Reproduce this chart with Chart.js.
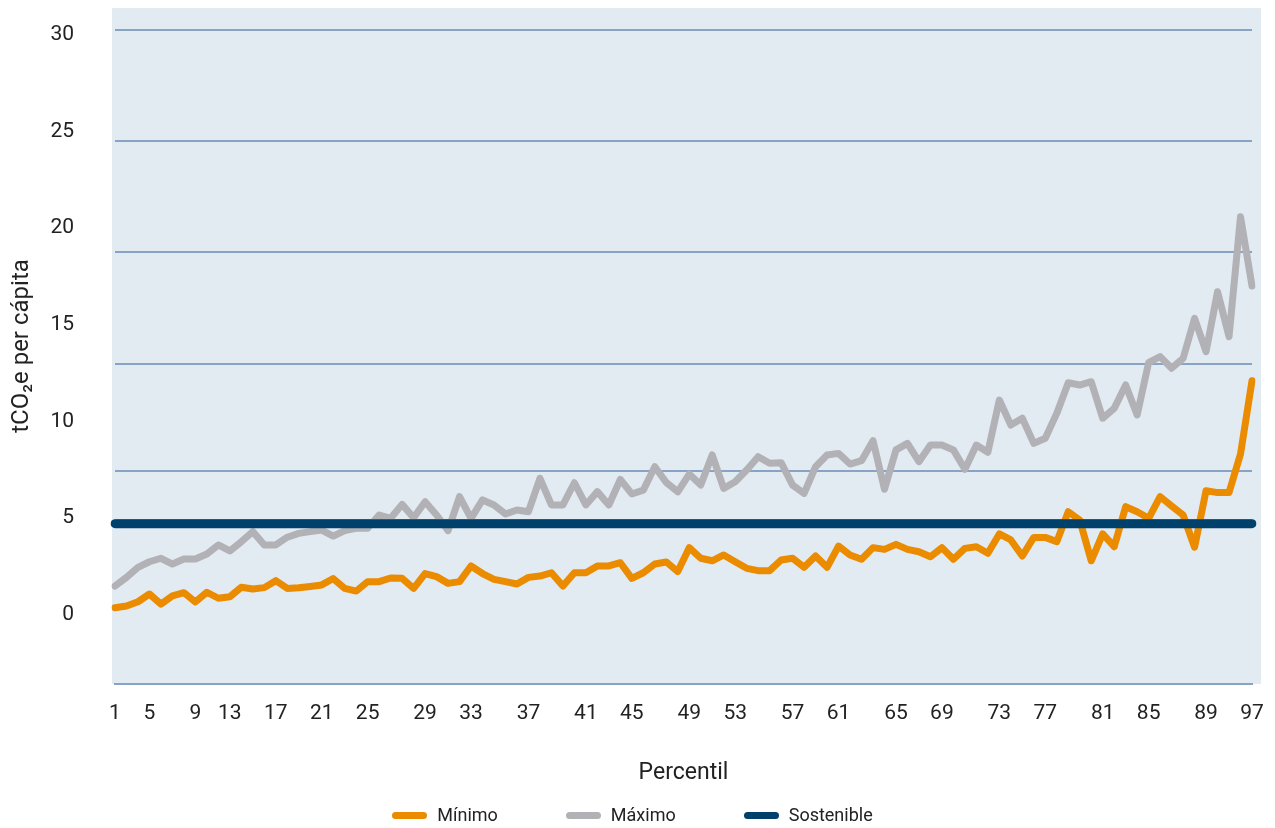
<!DOCTYPE html>
<html lang="es">
<head>
<meta charset="utf-8">
<title>tCO2e per cápita por percentil</title>
<script src="https://cdn.jsdelivr.net/npm/chart.js@4.4.1/dist/chart.umd.min.js"></script>
<style>
  html, body { margin: 0; padding: 0; background: #fff; }
  #wrap { position: relative; width: 1275px; height: 828px; }
  #legend {
    position: absolute; left: 0; top: 804px; width: 1275px; height: 22px;
    display: flex; justify-content: center; gap: 68px;
    box-sizing: border-box; padding-right: 10px;
    font: 18px Roboto, sans-serif; color: #222; line-height: 22px;
  }
  .item { display: flex; align-items: center; }
  .swatch { width: 35px; height: 7px; border-radius: 4px; margin-right: 10px; }
</style>
</head>
<body>
<div id="wrap">
  <canvas id="chart"></canvas>
  <div id="legend"></div>
</div>
<script>
const percentiles = Array.from({length: 100}, (_, i) => String(i + 1));

const minimo = [
  0.35, 0.44, 0.66, 1.06, 0.54, 0.96, 1.13, 0.65, 1.15, 0.84,
  0.92, 1.41, 1.32, 1.39, 1.75, 1.35, 1.38, 1.45, 1.53, 1.86,
  1.35, 1.21, 1.70, 1.70, 1.89, 1.87, 1.35, 2.12, 1.96, 1.61,
  1.70, 2.51, 2.12, 1.82, 1.70, 1.58, 1.92, 1.99, 2.16, 1.47,
  2.16, 2.16, 2.51, 2.51, 2.68, 1.87, 2.16, 2.61, 2.72, 2.22,
  3.46, 2.91, 2.78, 3.08, 2.73, 2.39, 2.27, 2.27, 2.82, 2.91,
  2.44, 3.03, 2.44, 3.54, 3.08, 2.86, 3.46, 3.37, 3.63, 3.37,
  3.25, 2.99, 3.46, 2.86, 3.42, 3.51, 3.17, 4.17, 3.86, 3.03,
  3.99, 3.99, 3.77, 5.32, 4.89, 2.78, 4.17, 3.51, 5.58, 5.32,
  4.98, 6.10, 5.62, 5.15, 3.48, 6.41, 6.31, 6.31, 8.31, 12.10
];

const maximo = [
  1.47, 1.92, 2.44, 2.73, 2.91, 2.61, 2.87, 2.87, 3.13, 3.60,
  3.29, 3.77, 4.29, 3.60, 3.60, 4.00, 4.20, 4.29, 4.37, 4.06,
  4.34, 4.46, 4.46, 5.15, 4.98, 5.70, 5.01, 5.84, 5.15, 4.34,
  6.10, 4.98, 5.93, 5.67, 5.20, 5.41, 5.32, 7.05, 5.67, 5.67,
  6.82, 5.67, 6.36, 5.67, 6.99, 6.24, 6.44, 7.65, 6.83, 6.35,
  7.27, 6.70, 8.26, 6.53, 6.87, 7.48, 8.17, 7.83, 7.86, 6.70,
  6.27, 7.65, 8.26, 8.34, 7.79, 7.96, 9.00, 6.48, 8.52, 8.86,
  7.91, 8.77, 8.77, 8.52, 7.52, 8.77, 8.40, 11.10, 9.81, 10.16,
  8.86, 9.12, 10.41, 12.00, 11.88, 12.05, 10.16, 10.67, 11.88, 10.33,
  13.04, 13.35, 12.75, 13.26, 15.33, 13.61, 16.71, 14.38, 20.59, 17.01
];

// Flat reference line
const SOSTENIBLE = 4.7;
const sostenible = new Array(percentiles.length).fill(SOSTENIBLE);

// Y axis: the labelled values, and the grid lines where the source puts them
const Y_MIN = -3.6;
const Y_MAX = 31.4;
const yTicks = [0, 5, 10, 15, 20, 25, 30];
const yGridLines = [30.26, 24.51, 18.77, 12.97, 7.43, 4.89];

// X axis: the labels shown and the point each one sits under
const xTickText = ['1', '5', '9', '13', '17', '21', '25', '29', '33', '37', '41', '45',
                   '49', '53', '57', '61', '65', '69', '73', '77', '81', '85', '89', '97'];
const xTickAt = [0, 3, 7, 10, 14, 18, 22, 27, 31, 36, 41, 45,
                 50, 54, 59, 63, 68, 72, 77, 81, 86, 90, 95, 99];

const ORANGE = '#EA8B00';
const GREY = '#B2B1B6';
const NAVY = '#00416B';
const PLOT_BG = '#E2EAF2';
const GRID = '#88A3C3';
const TEXT = '#222222';

Chart.defaults.font.family = "Roboto, 'Noto Sans', sans-serif";
Chart.defaults.color = TEXT;

const xLabelFor = {};
xTickAt.forEach((idx, k) => { xLabelFor[idx] = xTickText[k]; });

// light blue panel behind the plot, a little wider than the data
const plotBackground = {
    id: 'plotBackground',
    beforeDraw(chart) {
        const {ctx, chartArea} = chart;
        ctx.save();
        ctx.fillStyle = PLOT_BG;
        ctx.fillRect(chartArea.left - 3, chartArea.top,
                     chartArea.right - chartArea.left + 12, chartArea.bottom - chartArea.top);
        ctx.restore();
    }
};

const lineStyle = {
    pointRadius: 0,
    pointHoverRadius: 0,
    borderCapStyle: 'round',
    borderJoinStyle: 'round',
    tension: 0,
    fill: false
};

const datasets = [
    { ...lineStyle, label: 'Mínimo', data: minimo, borderColor: ORANGE, backgroundColor: ORANGE, borderWidth: 7, order: 1 },
    { ...lineStyle, label: 'Máximo', data: maximo, borderColor: GREY, backgroundColor: GREY, borderWidth: 7, order: 2 },
    { ...lineStyle, label: 'Sostenible', data: sostenible, borderColor: NAVY, backgroundColor: NAVY, borderWidth: 9, order: 0 }
];

// the vertical axes should not push the plot down to make room for their end labels
const noEndPadding = (scale) => {
    scale.paddingTop = 0;
    scale.paddingBottom = 0;
};

const chart = new Chart(document.getElementById('chart'), {
    type: 'line',
    data: { labels: percentiles, datasets: datasets },
    options: {
        responsive: true,
        maintainAspectRatio: false,
        animation: false,
        layout: { padding: { left: 0, top: 8, right: 23, bottom: 37 } },
        plugins: {
            legend: { display: false },
            tooltip: { enabled: false }
        },
        scales: {
            x: {
                type: 'category',
                offset: false,
                grid: { display: false },
                border: { display: true, color: GRID, width: 2 },
                ticks: {
                    autoSkip: false,
                    maxRotation: 0,
                    minRotation: 0,
                    padding: 9,
                    font: { size: 21 },
                    color: TEXT,
                    callback: (value, index) => xLabelFor[index] ?? ''
                },
                title: {
                    display: true,
                    text: 'Percentil',
                    font: { size: 23 },
                    color: TEXT,
                    padding: { top: 0, bottom: 4 }
                },
                afterFit: (scale) => { scale.height = 107; }
            },
            y: {
                type: 'linear',
                position: 'left',
                min: Y_MIN,
                max: Y_MAX,
                grid: { display: false },
                border: { display: false },
                ticks: {
                    padding: 33,
                    font: { size: 21 },
                    color: TEXT
                },
                afterBuildTicks: (scale) => { scale.ticks = yTicks.map(v => ({ value: v })); },
                title: {
                    display: true,
                    text: 'tCO₂e per cápita',
                    font: { size: 24 },
                    color: TEXT,
                    padding: { top: 8, bottom: 0 }
                },
                afterFit: (scale) => {
                    scale.width = 115;
                    noEndPadding(scale);
                }
            },
            yGrid: {
                type: 'linear',
                position: 'right',
                min: Y_MIN,
                max: Y_MAX,
                grid: { color: GRID, lineWidth: 2, drawTicks: false },
                border: { display: false },
                ticks: { display: false },
                afterBuildTicks: (scale) => { scale.ticks = yGridLines.map(v => ({ value: v })); },
                afterFit: (scale) => {
                    scale.width = 0;
                    noEndPadding(scale);
                }
            }
        }
    },
    plugins: [plotBackground]
});

// legend below the chart, spaced like the source
const legendEl = document.getElementById('legend');
chart.data.datasets.forEach(ds => {
    const item = document.createElement('div');
    item.className = 'item';
    const swatch = document.createElement('span');
    swatch.className = 'swatch';
    swatch.style.background = ds.borderColor;
    const label = document.createElement('span');
    label.textContent = ds.label;
    item.appendChild(swatch);
    item.appendChild(label);
    legendEl.appendChild(item);
});
</script>
</body>
</html>
